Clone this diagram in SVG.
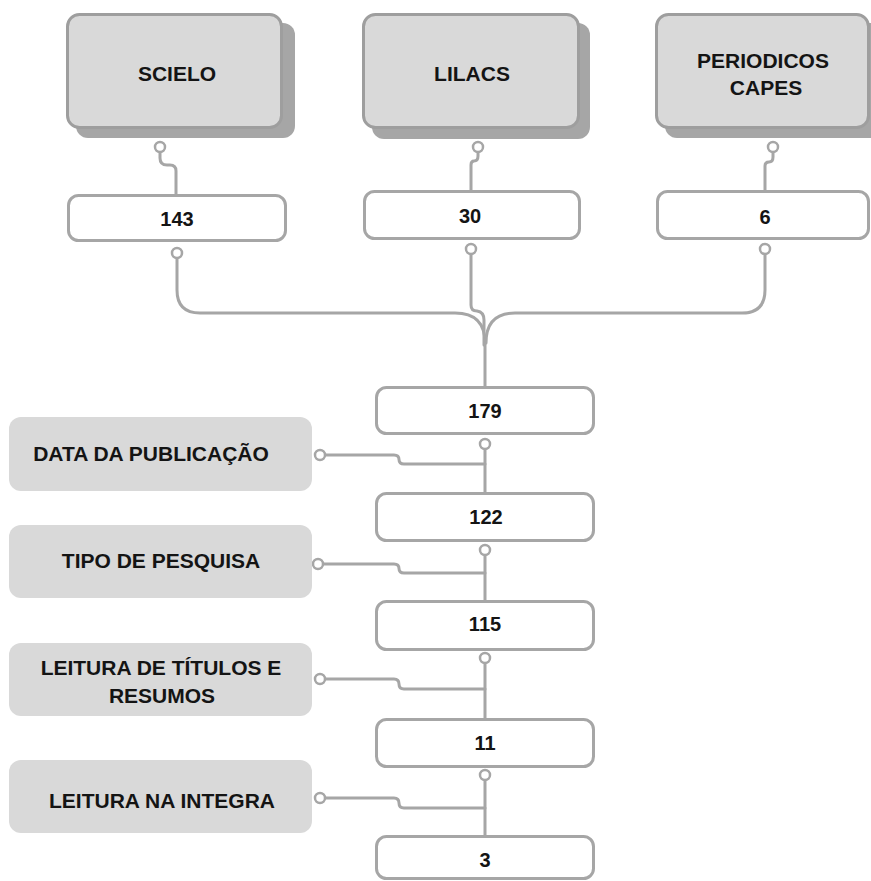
<svg xmlns="http://www.w3.org/2000/svg" width="871" height="881" viewBox="0 0 871 881">
<style>
.src{fill:#d9d9d9;stroke:#9e9e9e;stroke-width:3}
.shadow{fill:#a6a6a6}
.num{fill:#ffffff;stroke:#a6a6a6;stroke-width:3}
.crit{fill:#d9d9d9}
.lbl{font-family:"Liberation Sans",Arial,sans-serif;font-weight:700;font-size:21px;fill:#141414;text-anchor:middle}
.n{font-family:"Liberation Sans",Arial,sans-serif;font-weight:700;font-size:20px;fill:#141414;text-anchor:middle}
.wire{fill:none;stroke:#a6a6a6;stroke-width:3;stroke-linecap:round;stroke-linejoin:round}
.dot{fill:#ffffff;stroke:#a6a6a6;stroke-width:2.5}
</style>
<rect width="871" height="881" fill="#ffffff"/>
<g id="connectors">
<path class="wire" d="M160 152 L160 158 Q160 165 167 165 L170 165 Q176 165 176 171 L176 195"/>
<path class="wire" d="M478 152 L478 156 Q478 161 474 161 Q471 161 471 165 L471 191"/>
<path class="wire" d="M773 152 L773 157 Q773 162 769 162 Q765 162 765 166 L765 191"/>
<path class="wire" d="M177 258 V290 Q177 313 200 313 H455 Q485 313 485 343 V387"/>
<path class="wire" d="M471 254 V305 Q471 311 477 311 Q484 312 484 320 V345"/>
<path class="wire" d="M765 254 V290 Q765 313 742 313 H515 Q486 313 486 343"/>
<path class="wire" d="M485 449 V493"/>
<path class="wire" d="M325 455 H394 Q399 455 399 459.5 Q399 464 404 464 H485"/>
<path class="wire" d="M485 555 V601"/>
<path class="wire" d="M323 564 H394 Q399 564 399 568.5 Q399 573 404 573 H485"/>
<path class="wire" d="M485 663 V719"/>
<path class="wire" d="M325 679 H394 Q399 679 399 684 Q399 689 404 689 H485"/>
<path class="wire" d="M485 780 V836"/>
<path class="wire" d="M325 798 H394 Q399 798 399 803 Q399 808 404 808 H485"/>
<circle class="dot" cx="160" cy="147" r="5"/>
<circle class="dot" cx="478" cy="147" r="5"/>
<circle class="dot" cx="773" cy="147" r="5"/>
<circle class="dot" cx="177" cy="253" r="5"/>
<circle class="dot" cx="471" cy="249" r="5"/>
<circle class="dot" cx="765" cy="249" r="5"/>
<circle class="dot" cx="485" cy="444" r="5"/>
<circle class="dot" cx="485" cy="550" r="5"/>
<circle class="dot" cx="485" cy="658" r="5"/>
<circle class="dot" cx="485" cy="775" r="5"/>
<circle class="dot" cx="320" cy="455" r="5"/>
<circle class="dot" cx="318" cy="564" r="5"/>
<circle class="dot" cx="320" cy="679" r="5"/>
<circle class="dot" cx="320" cy="798" r="5"/>
</g>
<g id="scielo">
<rect class="shadow" x="76" y="23" width="219" height="115" rx="12"/>
<rect class="src" x="67.5" y="14.5" width="214" height="113" rx="12"/>
<text class="lbl" x="177" y="80.5">SCIELO</text>
</g>
<g id="lilacs">
<rect class="shadow" x="372" y="23" width="218" height="116" rx="12"/>
<rect class="src" x="363.5" y="14.5" width="215" height="113" rx="12"/>
<text class="lbl" x="472" y="80.5">LILACS</text>
</g>
<g id="periodicos">
<rect class="shadow" x="665" y="23" width="220" height="115" rx="12"/>
<rect class="src" x="656.5" y="14.5" width="212" height="113" rx="12"/>
<text class="lbl" x="763" y="67.5">PERIODICOS</text>
<text class="lbl" x="766" y="94.5">CAPES</text>
</g>
<g id="n143">
<rect class="num" x="68.5" y="195.5" width="217" height="45" rx="10"/>
<text class="n" x="177" y="226">143</text>
</g>
<g id="n30">
<rect class="num" x="364.5" y="191.5" width="215" height="47" rx="10"/>
<text class="n" x="470" y="223">30</text>
</g>
<g id="n6">
<rect class="num" x="657.5" y="191.5" width="211" height="47" rx="10"/>
<text class="n" x="765" y="224">6</text>
</g>
<g id="n179">
<rect class="num" x="376.5" y="387.5" width="217" height="46" rx="10"/>
<text class="n" x="485" y="418">179</text>
</g>
<g id="n122">
<rect class="num" x="376.5" y="493.5" width="217" height="47" rx="10"/>
<text class="n" x="486" y="524">122</text>
</g>
<g id="n115">
<rect class="num" x="376.5" y="601.5" width="217" height="48" rx="10"/>
<text class="n" x="485" y="631">115</text>
</g>
<g id="n11">
<rect class="num" x="376.5" y="719.5" width="217" height="47" rx="10"/>
<text class="n" x="485" y="750">11</text>
</g>
<g id="n3">
<rect class="num" x="376.5" y="836.5" width="217" height="42" rx="10"/>
<text class="n" x="485" y="867">3</text>
</g>
<g id="data">
<rect class="crit" x="9" y="417" width="303" height="74" rx="12"/>
<text class="lbl" x="151" y="461">DATA DA PUBLICAÇÃO</text>
</g>
<g id="tipo">
<rect class="crit" x="9" y="525" width="303" height="73" rx="12"/>
<text class="lbl" x="161" y="568">TIPO DE PESQUISA</text>
</g>
<g id="titulos">
<rect class="crit" x="9" y="643" width="303" height="73" rx="12"/>
<text class="lbl" x="161" y="675">LEITURA DE TÍTULOS E</text>
<text class="lbl" x="162" y="703">RESUMOS</text>
</g>
<g id="integra">
<rect class="crit" x="9" y="760" width="303" height="73" rx="12"/>
<text class="lbl" x="162" y="808">LEITURA NA INTEGRA</text>
</g>
</svg>
